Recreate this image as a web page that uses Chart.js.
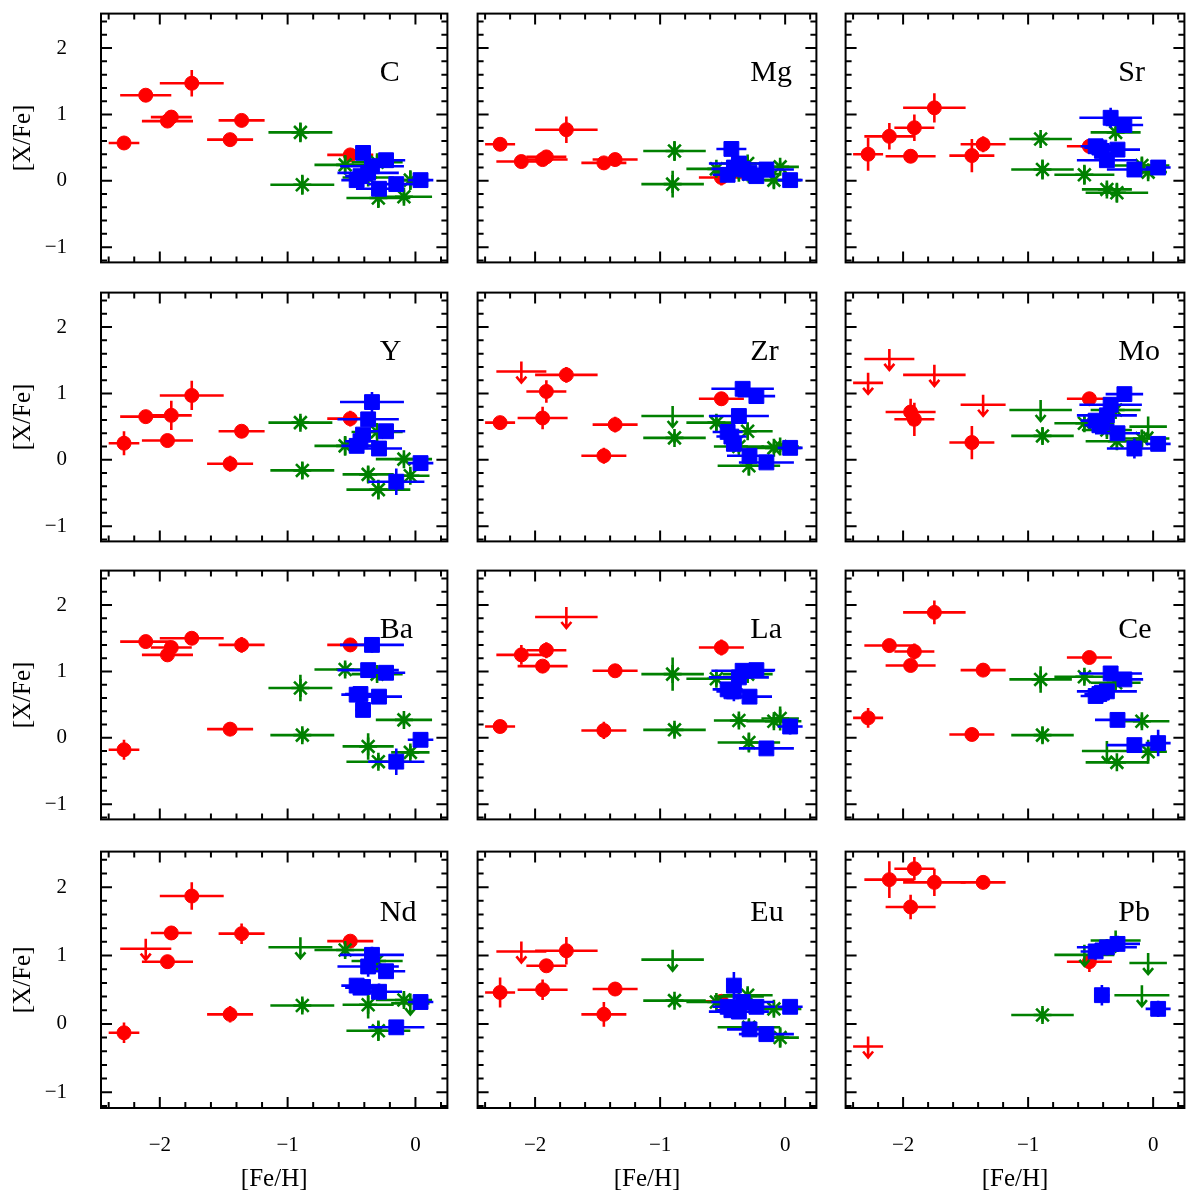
<!DOCTYPE html>
<html lang="en">
<head>
<meta charset="UTF-8" />
<script src="https://cdn.jsdelivr.net/npm/chart.js@4.4.0/dist/chart.umd.min.js"></script>
<title>[X/Fe] vs [Fe/H]</title>
<style>
  body { margin: 0; background: #fff; }
  #wrap { position: relative; width: 1200px; height: 1200px; }
  .panel { position: absolute; }
</style>
</head>
<body>
<div id="wrap"></div>
<script>
// panels, left to right and top to bottom
const elements = ["C", "Mg", "Sr", "Y", "Zr", "Mo", "Ba", "La", "Ce", "Nd", "Eu", "Pb"];

// red stars (circles)
const redFeH = [-2.28, -2.11, -1.94, -1.91, -1.75, -1.45, -1.36, -0.51];
const redFeErr = [0.12, 0.20, 0.20, 0.16, 0.25, 0.18, 0.18, 0.18];
const redX = [
  [0.57, 1.29, 0.90, 0.96, 1.47, 0.62, 0.91, 0.39],
  [0.55, 0.29, 0.32, 0.36, 0.77, 0.27, 0.32, 0.05],
  [0.40, 0.67, 0.37, 0.80, 1.10, 0.38, 0.55, 0.52],
  [0.25, 0.65, 0.29, 0.67, 0.97, -0.06, 0.43, 0.62],
  [0.56, 1.33, 0.63, 1.03, 1.28, 0.06, 0.53, 0.92],
  [1.16, 1.52, 0.72, 0.61, 1.28, 0.26, 0.83, 0.92],
  [-0.18, 1.45, 1.25, 1.36, 1.50, 0.13, 1.40, 1.40],
  [0.17, 1.25, 1.08, 1.32, 1.82, 0.11, 1.01, 1.36],
  [0.30, 1.39, 1.09, 1.30, 1.89, 0.05, 1.02, 1.21],
  [-0.13, 1.10, 0.91, 1.33, 1.87, 0.14, 1.32, 1.21],
  [0.46, 1.06, 0.50, 0.85, 1.07, 0.14, 0.51, 0.33],
  [-0.33, 2.11, 1.71, 2.27, 2.07, null, 2.07, 0.91]
];
const redXErr = [
  [0.05, 0.08, 0.05, 0.05, 0.20, 0.08, 0.05, 0.05],
  [0.06, 0.10, 0.05, 0.10, 0.20, 0.05, 0.06, 0.12],
  [0.25, 0.20, 0.10, 0.20, 0.22, 0.25, 0.12, 0.10],
  [0.18, 0.10, 0.10, 0.22, 0.22, 0.12, 0.08, 0.12],
  [0.07, 0, 0.17, 0.17, 0.12, 0.12, 0.12, 0.10],
  [0, 0, 0.20, 0.25, 0, 0.25, 0, 0.10],
  [0.15, 0.10, 0.10, 0.10, 0.08, 0.10, 0.12, 0.10],
  [0.05, 0.15, 0.05, 0.12, 0, 0.13, 0.08, 0.12],
  [0.15, 0.10, 0.08, 0.12, 0.18, 0.05, 0.08, 0.08],
  [0.15, 0, 0.05, 0.10, 0.20, 0.12, 0.15, 0.05],
  [0.22, 0, 0.15, 0.08, 0.20, 0.18, 0.10, 0.10],
  [0, 0.27, 0.18, 0.17, 0.20, null, 0.10, 0.15]
];
const redUpper = [[], [], [], [], [1], [0, 1, 4, 6], [], [4], [], [1], [1], [0]];

// green stars (asterisks)
const greenFeH = [-0.90, -0.885, -0.55, -0.37, -0.30, -0.29, -0.09, -0.04];
const greenFeErr = [0.25, 0.25, 0.24, 0.20, 0.20, 0.25, 0.22, 0.15];
const greenX = [
  [0.73, -0.06, 0.24, 0.05, 0.28, -0.26, -0.24, 0.01],
  [-0.05, 0.45, 0.18, 0.12, 0.26, 0.10, 0.01, 0.21],
  [0.63, 0.17, 0.09, -0.13, 0.73, -0.18, 0.23, 0.13],
  [0.56, -0.16, 0.21, -0.22, 0.42, -0.45, 0.01, -0.24],
  [0.66, 0.33, 0.56, 0.20, 0.43, -0.09, 0.18, 0.20],
  [0.75, 0.36, 0.55, 0.45, 0.75, 0.28, 0.32, 0.50],
  [0.75, 0.04, 1.03, -0.13, 0.96, -0.36, 0.27, -0.22],
  [0.96, 0.12, 0.89, 0.26, 0.96, -0.07, 0.25, 0.29],
  [0.88, 0.04, 0.92, -0.20, 0.83, -0.37, 0.25, -0.21],
  [1.12, 0.27, 1.08, 0.28, 0.92, -0.10, 0.35, 0.30],
  [0.94, 0.34, 0.32, 0.40, 0.42, -0.05, 0.22, -0.20],
  [null, 0.13, 1.01, null, 1.22, null, 0.42, 0.89]
];
const greenXErr = [
  [0.15, 0.15, 0.15, 0.10, 0.10, 0.15, 0.10, 0.15],
  [0.20, 0.15, 0.10, 0.10, 0.10, 0.10, 0.12, 0.08],
  [0.08, 0.15, 0.15, 0.10, 0.08, 0.15, 0.12, 0.10],
  [0.10, 0.12, 0.15, 0.12, 0.10, 0.15, 0.08, 0.08],
  [0, 0.08, 0.12, 0.10, 0.10, 0.15, 0.08, 0.08],
  [0, 0.12, 0.10, 0.10, 0.08, 0.12, 0.12, 0],
  [0.20, 0.10, 0.10, 0.20, 0.10, 0.10, 0.08, 0.10],
  [0.25, 0.10, 0.10, 0.10, 0.10, 0.15, 0.10, 0.18],
  [0.20, 0.12, 0.10, 0, 0.10, 0.05, 0.10, 0.18],
  [0, 0.10, 0.10, 0.20, 0.08, 0.15, 0.10, 0],
  [0, 0.08, 0.10, 0, 0.10, 0.10, 0.10, 0.15],
  [null, 0.10, 0, null, 0, null, 0, 0]
];
const greenUpper = [[], [], [], [], [0], [0, 7], [], [], [3], [0, 7], [0, 3], [2, 4, 6, 7]];

// blue stars (squares)
const blueFeH = [-0.46, -0.43, -0.41, -0.37, -0.34, -0.285, -0.23, -0.15, 0.04];
const blueFeErr = [0.12, 0.12, 0.06, 0.24, 0.25, 0.18, 0.15, 0.22, 0.10];
const blueX = [
  [0.01, 0.07, 0.42, 0.12, 0.22, -0.12, 0.31, -0.05, 0.01],
  [0.09, 0.48, 0.20, 0.26, 0.18, 0.12, 0.07, 0.17, 0.01],
  [0.52, 0.50, 0.45, 0.31, 0.95, 0.47, 0.84, 0.17, 0.20],
  [0.21, 0.28, 0.38, 0.61, 0.87, 0.17, 0.43, -0.33, -0.05],
  [0.42, 0.35, 0.24, 0.66, 1.07, 0.06, 0.96, -0.04, 0.18],
  [0.59, 0.52, 0.55, 0.67, 0.83, 0.40, 0.99, 0.17, 0.24],
  [0.65, 0.66, 0.42, 1.02, 1.40, 0.62, 0.98, -0.36, -0.03],
  [0.73, 0.70, 0.70, 0.91, 1.01, 0.62, 1.02, -0.16, 0.17],
  [0.63, 0.66, 0.68, 0.70, 0.97, 0.27, 0.88, -0.11, -0.08],
  [0.56, 0.53, 0.54, 0.84, 1.01, 0.47, 0.77, -0.05, 0.32],
  [0.25, 0.20, 0.56, 0.18, 0.32, -0.08, 0.25, -0.15, 0.25],
  [1.06, null, 0.42, 1.12, null, 1.17, null, null, 0.22]
];
const blueXErr = [
  [0.08, 0.08, 0.08, 0.10, 0.10, 0.08, 0.08, 0.10, 0.05],
  [0.08, 0.08, 0.10, 0.08, 0.10, 0.08, 0.08, 0.08, 0.05],
  [0.10, 0.08, 0.10, 0.10, 0.15, 0.08, 0.08, 0.10, 0.05],
  [0.10, 0.10, 0.10, 0.10, 0.15, 0.10, 0.08, 0.20, 0.08],
  [0.10, 0.10, 0.10, 0.10, 0.08, 0.10, 0.05, 0.10, 0.10],
  [0.08, 0.10, 0.10, 0.10, 0.10, 0.10, 0.10, 0.15, 0.10],
  [0.10, 0.08, 0.10, 0.10, 0.12, 0.08, 0.08, 0.20, 0.10],
  [0.10, 0.10, 0.15, 0.10, 0.10, 0.10, 0.10, 0.08, 0.12],
  [0.10, 0.08, 0.10, 0.08, 0.08, 0.10, 0.08, 0.10, 0.20],
  [0.10, 0.08, 0.08, 0.15, 0.12, 0.12, 0.10, 0.08, 0.10],
  [0.10, 0.10, 0.20, 0.10, 0.10, 0.10, 0.10, 0.10, 0.08],
  [0.12, null, 0.15, 0.12, null, 0.12, null, null, 0.12]
];
const blueUpper = [[], [], [], [], [], [], [], [], [], [], [], []];

const SERIF = "'Liberation Serif', 'DejaVu Serif', serif";
const colLeft = [101, 469.5, 838];
const rowTop = [6, 285, 563, 844];
const frameW = 354, frameH = 264;

const fmt = v => (v < 0 ? "\u2212" : "") + Math.abs(Math.round(v));

// error bars and upper-limit arrows, drawn just under each dataset's markers
const errorBars = {
  id: "errorBars",
  beforeDatasetDraw(chart, args) {
    const ds = chart.data.datasets[args.index];
    const xs = chart.scales.x, ys = chart.scales.y;
    const ctx = chart.ctx, a = chart.chartArea;
    ctx.save();
    ctx.beginPath();
    ctx.rect(a.left, a.top, a.right - a.left, a.bottom - a.top);
    ctx.clip();
    ctx.strokeStyle = ds.barColor;
    ctx.lineWidth = 2.6;
    ds.data.forEach((p, i) => {
      if (p.y == null) return;
      const px = xs.getPixelForValue(p.x), py = ys.getPixelForValue(p.y);
      ctx.beginPath();
      ctx.moveTo(xs.getPixelForValue(p.x - ds.xErr[i]), py);
      ctx.lineTo(xs.getPixelForValue(p.x + ds.xErr[i]), py);
      if (ds.upper.includes(i)) {
        ctx.moveTo(px, py - 10);
        ctx.lineTo(px, py + 11);
        ctx.moveTo(px - 5, py + 5);
        ctx.lineTo(px, py + 11);
        ctx.lineTo(px + 5, py + 5);
      } else if (ds.yErr[i]) {
        ctx.moveTo(px, ys.getPixelForValue(p.y - ds.yErr[i]));
        ctx.lineTo(px, ys.getPixelForValue(p.y + ds.yErr[i]));
      }
      ctx.stroke();
    });
    ctx.restore();
  }
};

// box, inward ticks on all sides, element name
const frameTicks = {
  id: "frameTicks",
  afterDraw(chart, args, opts) {
    const { ctx, chartArea: a, scales: { x, y } } = chart;
    ctx.save();
    ctx.strokeStyle = "#000";
    ctx.lineWidth = 2;
    ctx.beginPath();
    for (let k = -12; k <= 1; k++) {
      const v = k / 5, len = k % 5 === 0 ? 11 : 6;
      const px = x.getPixelForValue(v);
      if (px <= a.left || px >= a.right) continue;
      ctx.moveTo(px, a.bottom); ctx.lineTo(px, a.bottom - len);
      ctx.moveTo(px, a.top); ctx.lineTo(px, a.top + len);
    }
    for (let k = -6; k <= 12; k++) {
      const v = k / 5, len = k % 5 === 0 ? 11 : 6;
      const py = y.getPixelForValue(v);
      if (py <= a.top || py >= a.bottom) continue;
      ctx.moveTo(a.left, py); ctx.lineTo(a.left + len, py);
      ctx.moveTo(a.right, py); ctx.lineTo(a.right - len, py);
    }
    ctx.stroke();
    ctx.strokeRect(a.left, a.top, a.right - a.left, a.bottom - a.top);
    ctx.fillStyle = "#000";
    ctx.font = "30px " + SERIF;
    ctx.textBaseline = "alphabetic";
    ctx.textAlign = "left";
    ctx.fillText(opts.label, a.left + 0.805 * (a.right - a.left), a.top + 0.27 * (a.bottom - a.top));
    ctx.restore();
  }
};

// keep the frame exactly where it is: no extra padding from tick labels
const fixedBox = size => s => {
  if (s.isHorizontal()) s.height = size; else s.width = size;
  s.paddingTop = 0; s.paddingBottom = 0; s.paddingLeft = 0; s.paddingRight = 0;
};

function makeSet(label, fe, feErr, vals, errs, ups, color, style, radius) {
  return {
    label: label,
    data: fe.map((f, i) => ({ x: f, y: vals[i] })),
    xErr: feErr,
    yErr: errs,
    upper: ups,
    barColor: color,
    pointStyle: style,
    pointRadius: c => (ups.includes(c.dataIndex) ? 0 : radius),
    pointHoverRadius: c => (ups.includes(c.dataIndex) ? 0 : radius),
    backgroundColor: color,
    borderColor: color,
    borderWidth: style === "star" ? 2.6 : 1,
    showLine: false
  };
}

const wrap = document.getElementById("wrap");
elements.forEach((el, n) => {
  const col = n % 3, row = Math.floor(n / 3);
  const padL = col === 0 ? 100 : 4, padB = row === 3 ? 90 : 4;
  const div = document.createElement("div");
  div.className = "panel";
  div.style.left = (colLeft[col] - padL) + "px";
  div.style.top = (rowTop[row] - 4) + "px";
  div.style.width = (frameW + padL + 4) + "px";
  div.style.height = (frameH + 4 + padB) + "px";
  const canvas = document.createElement("canvas");
  div.appendChild(canvas);
  wrap.appendChild(div);

  const xAxis = {
    type: "linear", min: -2.46, max: 0.25, display: row === 3,
    grid: { display: false }, border: { display: false },
    ticks: { stepSize: 1, includeBounds: false, padding: 17, color: "#000",
             font: { family: SERIF, size: 21 }, maxRotation: 0, autoSkip: false, callback: fmt },
    title: { display: true, text: "[Fe/H]", color: "#000", font: { family: SERIF, size: 25 },
             padding: { top: 0, bottom: 4 } }
  };
  if (row === 3) xAxis.afterFit = fixedBox(90);
  const yAxis = {
    type: "linear", min: -1.23, max: 2.52, display: col === 0,
    grid: { display: false }, border: { display: false },
    ticks: { stepSize: 1, includeBounds: false, padding: 26, color: "#000",
             font: { family: SERIF, size: 21 }, autoSkip: false, callback: fmt },
    title: { display: true, text: "[X/Fe]", color: "#000", font: { family: SERIF, size: 25 },
             padding: { top: 7, bottom: 0 } }
  };
  if (col === 0) yAxis.afterFit = fixedBox(100);

  new Chart(canvas, {
    type: "scatter",
    data: {
      datasets: [
        makeSet("blue", blueFeH, blueFeErr, blueX[n], blueXErr[n], blueUpper[n], "#0000ff", "rect", 10.5),
        makeSet("green", greenFeH, greenFeErr, greenX[n], greenXErr[n], greenUpper[n], "#008000", "star", 9),
        makeSet("red", redFeH, redFeErr, redX[n], redXErr[n], redUpper[n], "#ff0000", "circle", 7)
      ]
    },
    options: {
      responsive: true,
      maintainAspectRatio: false,
      animation: false,
      layout: { padding: { left: col === 0 ? 0 : 4, top: 4, right: 4, bottom: row === 3 ? 0 : 4 } },
      scales: { x: xAxis, y: yAxis },
      plugins: {
        legend: { display: false },
        tooltip: { enabled: false },
        frameTicks: { label: el }
      }
    },
    plugins: [errorBars, frameTicks]
  });
});
</script>
</body>
</html>
